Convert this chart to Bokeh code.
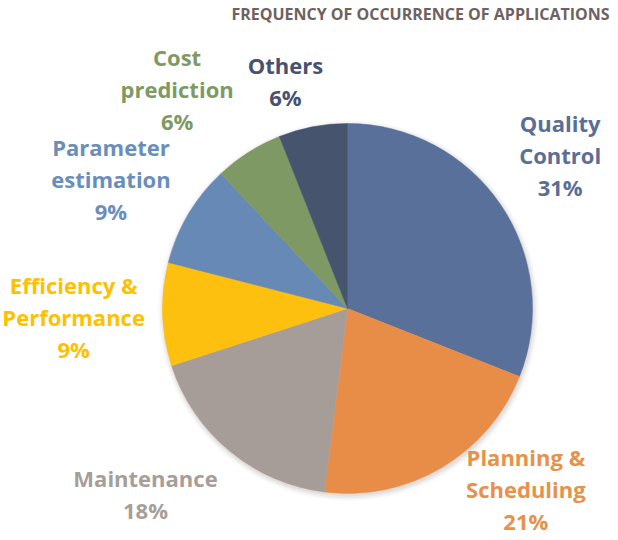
import math
from bokeh.plotting import figure
from bokeh.models import Range1d, ColumnDataSource
from bokeh.core.properties import value
from bokeh.embed import file_html
from bokeh.resources import INLINE

# ---- data ----
title_text = "FREQUENCY OF OCCURRENCE OF APPLICATIONS"
categories = ["Quality\nControl", "Planning &\nScheduling", "Maintenance",
              "Efficiency &\nPerformance", "Parameter\nestimation",
              "Cost\nprediction", "Others"]
shares = [31, 21, 18, 9, 9, 6, 6]

# ---- style ----
slice_colors = ["#58709A", "#E88D48", "#A69D99", "#FEC00F", "#6689B5", "#7F9964", "#46546E"]
label_colors = ["#5A6E96", "#E8914A", "#A79E9A", "#FFC000", "#6A8EBC", "#7E9A62", "#46526E"]
# pixel nudges (screen px, y down) from default label spot
label_nudges = [(-4, -6), (45, -45), (-35, -16), (-12, 0), (-11, 4), (-30, 2), (-13, 30)]

W, H = 610, 540
p = figure(width=W, height=H, x_range=Range1d(0, W), y_range=Range1d(0, H),
           output_backend="svg", toolbar_location=None, min_border=0)
p.axis.visible = False
p.grid.visible = False
p.outline_line_color = None
p.background_fill_color = "white"

cx, cy = 347, H - 308
R = 185

# soft shadow
for i, a in enumerate([0.10, 0.07, 0.05, 0.03]):
    p.circle(x=[cx + 1], y=[cy - 2], radius=R + 1 + i * 1.5, fill_color="#8a7a74",
             fill_alpha=a, line_color=None)

total = float(sum(shares))
starts, ends, mids = [], [], []
cum = 0.0
for s in shares:
    a0 = math.pi / 2 - 2 * math.pi * cum / total
    cum += s
    a1 = math.pi / 2 - 2 * math.pi * cum / total
    starts.append(a0)
    ends.append(a1)
    mids.append((a0 + a1) / 2)

src = ColumnDataSource(dict(start=starts, end=ends, color=slice_colors))
p.wedge(x=cx, y=cy, radius=R, start_angle="start", end_angle="end", direction="clock",
        fill_color="color", line_color="color", line_width=0.5, source=src)

lx, ly, texts = [], [], []
for cat, s, m, (dx, dy) in zip(categories, shares, mids, label_nudges):
    r = 262
    lx.append(cx + r * math.cos(m) + dx)
    ly.append(cy + r * math.sin(m) - dy)
    texts.append(f"{cat}\n{s}%")

lsrc = ColumnDataSource(dict(x=lx, y=ly, t=texts, c=label_colors))
p.text(x="x", y="y", text="t", text_color="c", source=lsrc,
       text_align="center", text_baseline="middle",
       text_font=value("Open Sans"), text_font_style="bold",
       text_font_size="22px", text_line_height=1.07)

p.text(x=[420], y=[H - 13], text=[title_text], text_color="#6E6261",
       text_align="center", text_baseline="middle",
       text_font=value("Open Sans"), text_font_style="bold", text_font_size="16px")

open("out.html", "w").write(file_html(p, INLINE))
